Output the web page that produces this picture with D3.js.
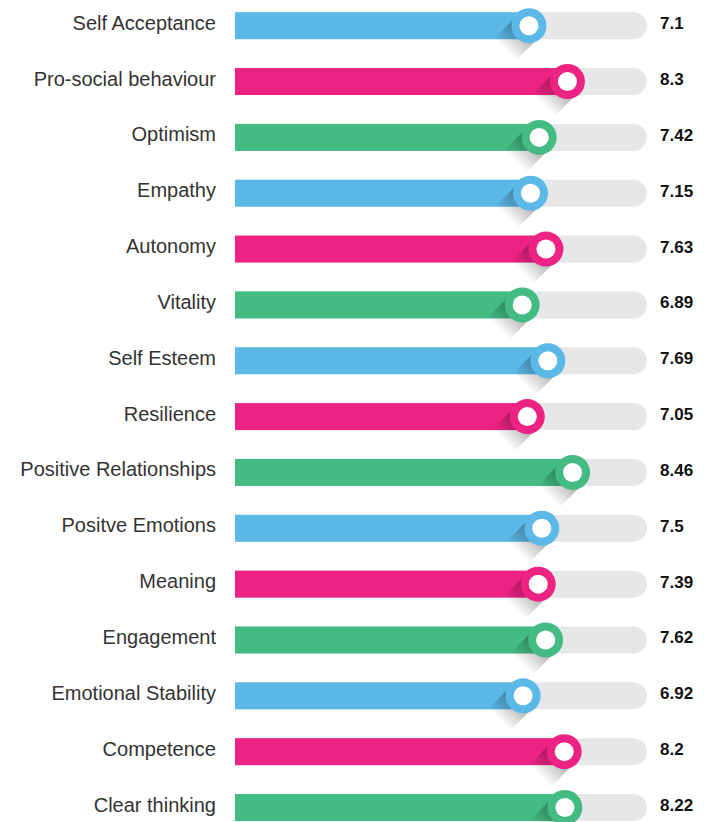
<!DOCTYPE html>
<html>
<head>
<meta charset="utf-8">
<script src="https://cdn.jsdelivr.net/npm/d3@7"></script>
<style>
  body { margin: 0; background: #fff; }
  svg { display: block; }
</style>
</head>
<body>
<svg width="706" height="822"></svg>
<script>
// data, top to bottom
const labels = [
  "Self Acceptance", "Pro-social behaviour", "Optimism", "Empathy", "Autonomy",
  "Vitality", "Self Esteem", "Resilience", "Positive Relationships", "Positve Emotions",
  "Meaning", "Engagement", "Emotional Stability", "Competence", "Clear thinking"
];
const values = [7.1, 8.3, 7.42, 7.15, 7.63, 6.89, 7.69, 7.05, 8.46, 7.5, 7.39, 7.62, 6.92, 8.2, 8.22];
const valueText = ["7.1", "8.3", "7.42", "7.15", "7.63", "6.89", "7.69", "7.05", "8.46", "7.5", "7.39", "7.62", "6.92", "8.2", "8.22"];
const palette = ["#5cb8e7", "#ed2384", "#43bb83"];

const svg = d3.select("svg");

const trackStart = 235, trackEnd = 647;
const barH = 27;
const knobR = 17.5, holeR = 9.5;

// knob centre position
const x = d3.scaleLinear().domain([0, 10]).range([301, 622]);
const y = d3.scalePoint().domain(labels).range([25.7, 807.5]);

const defs = svg.append("defs");
// shadow gradient running down-left from knob
const grad = defs.append("linearGradient")
  .attr("id", "shade")
  .attr("x1", "0").attr("y1", "0").attr("x2", "1").attr("y2", "0");
grad.append("stop").attr("offset", "0%").attr("stop-color", "#000").attr("stop-opacity", 0.4);
grad.append("stop").attr("offset", "100%").attr("stop-color", "#000").attr("stop-opacity", 0);

const rows = svg.selectAll("g.row")
  .data(labels)
  .join("g")
  .attr("class", "row")
  .attr("transform", d => `translate(0,${y(d)})`);

// grey track, rounded at right end
rows.append("path")
  .attr("fill", "#e6e7e8")
  .attr("d", () => {
    const r = barH / 2;
    return `M${trackStart},${-r}H${trackEnd - r}A${r},${r} 0 0 1 ${trackEnd - r},${r}H${trackStart}Z`;
  });

// coloured bar
rows.append("rect")
  .attr("x", trackStart)
  .attr("y", -barH / 2)
  .attr("width", (d, i) => x(values[i]) - trackStart)
  .attr("height", barH)
  .attr("fill", (d, i) => palette[i % 3]);

// long shadow from knob
const L = 34;
rows.append("g")
  .attr("transform", (d, i) => `translate(${x(values[i])},0) rotate(135)`)
  .append("rect")
  .attr("x", 0)
  .attr("y", -knobR + 2)
  .attr("width", L)
  .attr("height", 2 * knobR - 4)
  .attr("fill", "url(#shade)");

// knob
rows.append("circle")
  .attr("cx", (d, i) => x(values[i]))
  .attr("r", knobR)
  .attr("fill", (d, i) => palette[i % 3]);

rows.append("circle")
  .attr("cx", (d, i) => x(values[i]))
  .attr("r", holeR)
  .attr("fill", "#fff");

// category labels
rows.append("text")
  .attr("x", 216)
  .attr("y", -3)
  .attr("text-anchor", "end")
  .attr("dominant-baseline", "central")
  .style("font-family", "'Liberation Sans', Arial, sans-serif")
  .style("font-size", "20px")
  .style("fill", "#333")
  .text(d => d);

// value labels
rows.append("text")
  .attr("x", 660)
  .attr("y", -2)
  .attr("dominant-baseline", "central")
  .style("font-family", "'Liberation Sans', Arial, sans-serif")
  .style("font-size", "17px")
  .style("font-weight", "bold")
  .style("fill", "#111")
  .text((d, i) => valueText[i]);
</script>
</body>
</html>
